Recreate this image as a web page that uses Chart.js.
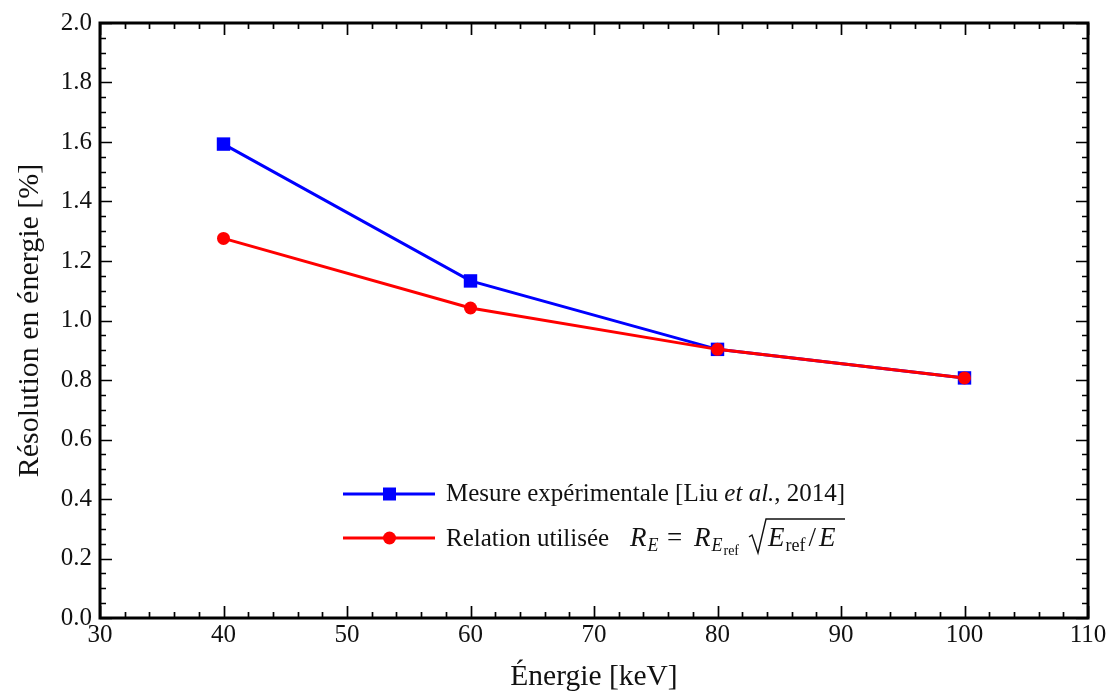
<!DOCTYPE html>
<html>
<head>
<meta charset="utf-8">
<script src="https://cdn.jsdelivr.net/npm/chart.js@4/dist/chart.umd.min.js"></script>
<style>
  html, body { margin: 0; padding: 0; background: #fff; }
  #wrap { width: 1109px; height: 695px; }
</style>
</head>
<body>
<div id="wrap"><canvas id="chart"></canvas></div>
<script>
// energies in keV
const energies = [40, 60, 80, 100];
// measured resolution [%] (Liu et al., 2014)
const measured = [1.593, 1.133, 0.903, 0.807];
// resolution from R_E = R_Eref * sqrt(Eref / E)
const relation = [1.276, 1.042, 0.903, 0.807];

const xTicks = [30, 40, 50, 60, 70, 80, 90, 100, 110];
const yTicks = [0.0, 0.2, 0.4, 0.6, 0.8, 1.0, 1.2, 1.4, 1.6, 1.8, 2.0];

const serif = '"Liberation Serif", "DejaVu Serif", serif';

// inward ticks on all four sides + thick frame
const frame = {
    id: 'frame',
    afterDatasetsDraw(chart) {
        const { ctx, chartArea: a, scales } = chart;
        const xs = scales.x, ys = scales.y;
        ctx.save();
        ctx.strokeStyle = '#000';
        ctx.lineWidth = 1.7;
        ctx.beginPath();
        for (let v = 30; v <= 110.001; v += 2) {
            const px = Math.round(xs.getPixelForValue(v)) + 0.5;
            const len = (Math.round(v) % 10 === 0) ? 12 : 6;
            ctx.moveTo(px, a.bottom); ctx.lineTo(px, a.bottom - len);
            ctx.moveTo(px, a.top); ctx.lineTo(px, a.top + len);
        }
        for (let i = 0; i <= 40; i++) {
            const v = i * 0.05;
            const py = Math.round(ys.getPixelForValue(v)) + 0.5;
            const len = (i % 4 === 0) ? 12 : 6;
            ctx.moveTo(a.left, py); ctx.lineTo(a.left + len, py);
            ctx.moveTo(a.right, py); ctx.lineTo(a.right - len, py);
        }
        ctx.stroke();
        ctx.lineWidth = 3;
        ctx.strokeRect(a.left, a.top, a.right - a.left, a.bottom - a.top);
        ctx.restore();
    }
};

// legend: line with marker in the middle, text with math
const mathLegend = {
    id: 'mathLegend',
    afterDraw(chart) {
        const { ctx } = chart;
        ctx.save();
        const rows = [
            { color: '#0000ff', style: 'rect', y: 494 },
            { color: '#ff0000', style: 'circle', y: 538 }
        ];
        rows.forEach(r => {
            ctx.strokeStyle = r.color;
            ctx.fillStyle = r.color;
            ctx.lineWidth = 3;
            ctx.beginPath();
            ctx.moveTo(343, r.y); ctx.lineTo(435, r.y);
            ctx.stroke();
            ctx.beginPath();
            if (r.style === 'rect') ctx.rect(383, r.y - 6.5, 13, 13);
            else ctx.arc(389.5, r.y, 6.5, 0, Math.PI * 2);
            ctx.fill();
        });
        ctx.fillStyle = '#111';
        ctx.textBaseline = 'alphabetic';
        const up = s => s + 'px ' + serif;
        const it = s => 'italic ' + s + 'px ' + serif;
        let x = 446;
        const put = (t, f, dy, gap) => {
            ctx.font = f;
            ctx.fillText(t, x, dy);
            x += ctx.measureText(t).width + (gap || 0);
        };
        // row 1
        let b = 501;
        put('Mesure expérimentale [Liu ', up(25), b);
        put('et al.', it(25), b);
        put(', 2014]', up(25), b);
        // row 2
        x = 446; b = 546;
        put('Relation utilisée', up(25), b);
        x = 630;
        put('R', it(27), b, 1);
        put('E', it(18), b + 5);
        x = 667;
        put('=', up(27), b);
        x = 694;
        put('R', it(27), b, 1);
        put('E', it(18), b + 5, 1);
        put('ref', up(14), b + 9);
        // sqrt sign
        const sx = 749;
        ctx.strokeStyle = '#111';
        ctx.lineWidth = 1.4;
        ctx.beginPath();
        ctx.moveTo(sx, b - 9);
        ctx.lineTo(sx + 3, b - 11);
        ctx.lineTo(sx + 9, b + 7);
        ctx.lineTo(sx + 17, b - 27);
        ctx.lineTo(845, b - 27);
        ctx.stroke();
        x = sx + 19;
        put('E', it(27), b, 1);
        put('ref', up(18), b + 5, 3);
        put('/', up(27), b, 3);
        put('E', it(27), b);
        ctx.restore();
    }
};

const config = {
    type: 'line',
    data: {
        datasets: [
            {
                label: 'Mesure expérimentale [Liu et al., 2014]',
                data: energies.map((e, i) => ({ x: e, y: measured[i] })),
                borderColor: '#0000ff',
                backgroundColor: '#0000ff',
                borderWidth: 3,
                pointStyle: 'rect',
                pointRadius: 9.5,
                pointBorderWidth: 0,
                order: 1
            },
            {
                label: 'Relation utilisée',
                data: energies.map((e, i) => ({ x: e, y: relation[i] })),
                borderColor: '#ff0000',
                backgroundColor: '#ff0000',
                borderWidth: 3,
                pointStyle: 'circle',
                pointRadius: 6.5,
                pointBorderWidth: 0,
                order: 0
            }
        ]
    },
    options: {
        responsive: true,
        maintainAspectRatio: false,
        animation: false,
        layout: { padding: { top: 19, right: 21, left: 0, bottom: 0 } },
        plugins: { legend: { display: false }, tooltip: { enabled: false } },
        scales: {
            x: {
                type: 'linear',
                min: 30, max: 110,
                afterBuildTicks: s => { s.ticks = xTicks.map(v => ({ value: v })); },
                afterFit: s => { s.height = 77; },
                grid: { display: false, drawTicks: false },
                border: { display: false },
                ticks: {
                    color: '#111',
                    padding: 2,
                    font: { family: serif, size: 25 },
                    maxRotation: 0
                },
                title: {
                    display: true,
                    text: 'Énergie [keV]',
                    color: '#111',
                    font: { family: serif, size: 29.5 },
                    padding: { top: 10, bottom: 0 }
                }
            },
            y: {
                type: 'linear',
                min: 0, max: 2,
                afterBuildTicks: s => { s.ticks = yTicks.map(v => ({ value: v })); },
                afterFit: s => { s.width = 100; },
                grid: { display: false, drawTicks: false },
                border: { display: false },
                ticks: {
                    color: '#111',
                    padding: 8,
                    font: { family: serif, size: 25 },
                    callback: v => v.toFixed(1)
                },
                title: {
                    display: true,
                    text: 'Résolution en énergie [%]',
                    color: '#111',
                    font: { family: serif, size: 30 },
                    padding: { top: 12, bottom: 0 }
                }
            }
        }
    },
    plugins: [frame, mathLegend]
};

new Chart(document.getElementById('chart'), config);
</script>
</body>
</html>
